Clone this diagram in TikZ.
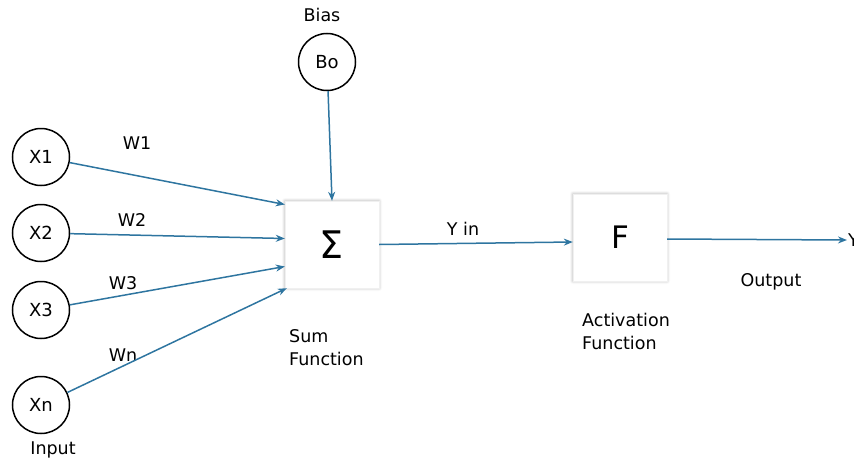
\documentclass[tikz,border=0pt]{standalone}
\usepackage{fontspec}
\setmainfont{DejaVu Sans}
\usetikzlibrary{arrows.meta, positioning, shadows.blur}
\definecolor{wireblue}{RGB}{46,117,160}

\begin{document}
\begin{tikzpicture}[
            x=1pt, y=-1pt,
            ->,
            >={Stealth[length=9pt,width=7pt]},
            font=\fontsize{17.5}{23}\selectfont
        ]
        \tikzstyle{neuron}=[circle, draw=black, line width=1.5pt, minimum size=57pt, inner sep=0pt,
            font=\fontsize{18}{20}\selectfont]
        \tikzstyle{block}=[rectangle, fill=white, draw=black!6, minimum width=94pt, minimum height=87pt,
            blur shadow={shadow xshift=0pt, shadow yshift=0pt, shadow blur radius=3pt, shadow opacity=35}]
        \tikzstyle{wire}=[draw=wireblue, line width=1.5pt]
        \tikzstyle{caption}=[inner sep=0pt, align=left]

        \useasboundingbox (0,0) rectangle (854,463);
        \clip (0,0) rectangle (854,463);

        \node[neuron] (X1) at (41,157) {X1};
        \node[neuron] (X2) at (41,233) {X2};
        \node[neuron] (X3) at (41,310) {X3};
        \node[neuron] (Xn) at (41,405) {Xn};
        \node[neuron] (B0) at (327,62) {Bo};
        \node[block] (sum) at (332,244.5) {\fontsize{38}{40}\selectfont Σ};
        \node[block] (act) at (620,237.5) {\fontsize{31}{34}\selectfont F};
        \node[anchor=west, inner sep=1pt] (Y) at (847,240) {Y};

        % texts
        \node[caption] (bias) at (322,15) {Bias};
        \node[caption] (input) at (53,450) {Input};
        \node[caption] (w1) at (137,143) {W1};
        \node[caption] (w2) at (132,220) {W2};
        \node[caption] (w3) at (123,283) {W3};
        \node[caption] (wn) at (123,355) {Wn};
        \node[caption] (yin) at (463,229) {Y in};
        \node[caption] (out) at (771,282) {Output};
        \node[caption, anchor=north west] (sumtxt) at (289,329) {Sum\\Function};
        \node[caption, anchor=north west] (acttxt) at (582,313) {Activation\\Function};

        \path (X1) edge[wire] ([yshift=40pt]sum.west)
        (X2) edge[wire] ([yshift=6pt]sum.west)
        (X3) edge[wire] ([yshift=-22pt]sum.west)
        (Xn) edge[wire] ([xshift=2pt]sum.south west)
        (B0) edge[wire] (sum.north)
        (sum.east) edge[wire] ([yshift=-4.5pt]act.west)
        ([yshift=-1.5pt]act.east) edge[wire] (Y.west);
    \end{tikzpicture}
\end{document}
